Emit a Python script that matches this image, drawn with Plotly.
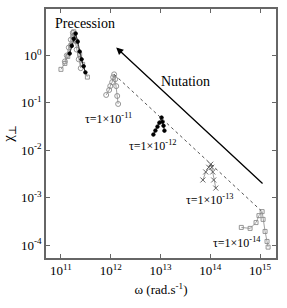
import plotly.graph_objects as go

# Precession cluster (three runs)
prec_sq_w = [1.0e11, 1.2e11, 1.37e11, 1.58e11, 1.73e11, 1.81e11, 2.07e11, 2.38e11, 2.73e11, 3.4e11]
prec_sq_chi = [0.51, 0.68, 0.95, 1.62, 2.5, 3.16, 1.96, 1.05, 0.65, 0.35]
prec_ci_w = [1.2e11, 1.31e11, 1.44e11, 1.58e11, 1.73e11, 1.9e11, 2.07e11, 2.28e11, 2.5e11]
prec_ci_chi = [0.75, 1.0, 1.47, 2.15, 3.0, 2.15, 1.33, 0.83, 0.54]
prec_bk_w = [1.5e11, 1.65e11, 1.81e11, 1.98e11, 2.17e11, 2.38e11, 2.6e11, 2.86e11, 3.1e11]
prec_bk_chi = [1.1, 1.6, 2.25, 2.9, 1.96, 1.21, 0.83, 0.59, 0.44]

# tau = 1e-11 (open circles)
t11_w = [8.1e11, 9.3e11, 9.8e11, 1.07e12, 1.12e12, 1.17e12, 1.23e12, 1.29e12, 1.35e12, 1.41e12]
t11_chi = [0.147, 0.187, 0.226, 0.274, 0.348, 0.40, 0.316, 0.226, 0.14, 0.095]

# tau = 1e-12 (filled dots)
t12_w = [7.2e12, 7.9e12, 8.7e12, 9.5e12, 1.05e13, 1.1e13, 1.15e13, 1.2e13]
t12_chi = [0.0215, 0.0261, 0.0316, 0.0383, 0.049, 0.040, 0.033, 0.026]

# tau = 1e-13 (crosses)
t13_w = [7.1e13, 8.1e13, 9.3e13, 1.02e14, 1.07e14, 1.12e14, 1.17e14, 1.29e14]
t13_chi = [2.37e-3, 3.5e-3, 4.4e-3, 5.1e-3, 4.4e-3, 3.5e-3, 2.37e-3, 1.6e-3]

# tau = 1e-14 (open squares)
t14_w = [4.2e14, 6.3e14, 8.3e14, 9.5e14, 1.1e15, 1.15e15, 1.26e15, 1.38e15, 1.45e15]
t14_chi = [2.37e-4, 2.26e-4, 3.0e-4, 4.2e-4, 5.1e-4, 3.5e-4, 1.95e-4, 1.2e-4, 9.1e-5]

# dotted guide through the nutation peaks
guide_w = [1.17e12, 1.1e15]
guide_chi = [0.40, 5.1e-4]

x_tickvals = [1e11, 1e12, 1e13, 1e14, 1e15]
x_ticktext = ["10<sup>11</sup>", "10<sup>12</sup>", "10<sup>13</sup>", "10<sup>14</sup>", "10<sup>15</sup>"]
y_tickvals = [1, 1e-1, 1e-2, 1e-3, 1e-4]
y_ticktext = ["10<sup>0</sup>", "10<sup>-1</sup>", "10<sup>-2</sup>", "10<sup>-3</sup>", "10<sup>-4</sup>"]

FONT = "Times New Roman, Liberation Serif, DejaVu Serif, serif"
GRAY = "#8a8a8a"

fig = go.Figure()

def add(x, y, symbol, color, size, lcolor):
    fig.add_trace(go.Scatter(
        x=x, y=y, mode="lines+markers",
        line=dict(color=lcolor, width=0.8),
        marker=dict(symbol=symbol, size=size, color=color,
                    line=dict(color=color, width=0.9)),
        showlegend=False, hoverinfo="skip"))

add(prec_sq_w, prec_sq_chi, "square-open", GRAY, 4, GRAY)
add(prec_ci_w, prec_ci_chi, "circle-open", GRAY, 5, GRAY)
add(prec_bk_w, prec_bk_chi, "circle", "black", 3.5, "black")
add(t11_w, t11_chi, "circle-open", GRAY, 5, GRAY)
add(t12_w, t12_chi, "circle", "black", 3.5, "black")
add(t13_w, t13_chi, "x-thin-open", "#555555", 5, GRAY)
add(t14_w, t14_chi, "square-open", GRAY, 4, GRAY)

fig.add_trace(go.Scatter(x=guide_w, y=guide_chi, mode="lines",
                         line=dict(color="#555555", width=1, dash="dot"),
                         showlegend=False, hoverinfo="skip"))

# Arrow (Nutation direction)
fig.add_annotation(x=12.11, y=0.167, ax=15.08, ay=-2.73, xref="x", yref="y",
                   axref="x", ayref="y", showarrow=True, arrowhead=2,
                   arrowsize=1.1, arrowwidth=1.3, arrowcolor="black", text="")

texts = [
    (11.475, 0.667, "Precession", 14),
    (13.51, -0.54, "Nutation", 14),
    (11.95, -1.33, "τ=1×10<sup>-11</sup>", 12),
    (12.84, -1.90, "τ=1×10<sup>-12</sup>", 12),
    (13.99, -3.04, "τ=1×10<sup>-13</sup>", 12),
    (14.54, -3.94, "τ=1×10<sup>-14</sup>", 12),
]
for x, y, t, s in texts:
    fig.add_annotation(x=x, y=y, xref="x", yref="y", text=t, showarrow=False,
                       font=dict(family=FONT, size=s, color="black"))

axis_common = dict(
    type="log", showgrid=False, zeroline=False, showline=True, mirror="ticks",
    linecolor="#666666", linewidth=1.5, ticks="inside", ticklen=4,
    tickcolor="#666666", tickwidth=1,
    tickfont=dict(family=FONT, size=13, color="black"),
)

fig.update_layout(
    width=287, height=308,
    margin=dict(l=43, r=11, t=7, b=50),
    plot_bgcolor="white", paper_bgcolor="white",
    font=dict(family=FONT, color="black"),
    hovermode=False,
    xaxis=dict(axis_common, range=[10.70, 15.32], tickvals=x_tickvals, ticktext=x_ticktext,
               title=dict(text="ω (rad.s<sup>-1</sup>)", font=dict(family=FONT, size=13, color="black"),
                          standoff=8)),
    yaxis=dict(axis_common, range=[-4.27, 0.98], tickvals=y_tickvals, ticktext=y_ticktext,
               title=dict(text="χ<sub>⊥</sub>", font=dict(family=FONT, size=15, color="black"),
                          standoff=4)),
)

fig.write_html("out.html", config={"displayModeBar": False},
               post_script="document.body.style.margin='0';document.body.style.overflow='hidden';")
